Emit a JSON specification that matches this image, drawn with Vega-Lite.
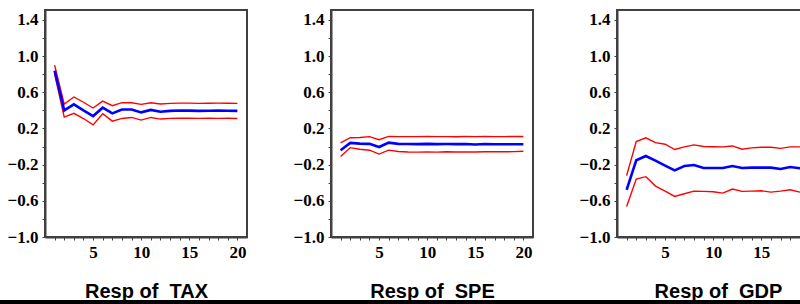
{
  "$schema": "https://vega.github.io/schema/vega-lite/v6.json",
  "padding": {"left": 0, "top": 9, "right": 0, "bottom": 0},
  "background": "white",
  "config": {
    "view": {"stroke": "#404040", "strokeWidth": 2},
    "axis": {
      "labelFont": "Liberation Serif", "labelFontWeight": "bold", "labelFontSize": 17, "labelColor": "black",
      "titleFont": "Liberation Sans", "titleFontWeight": "bold", "titleFontSize": 20, "titleColor": "black",
      "domainColor": "#404040", "domainWidth": 2, "tickColor": "#404040", "tickSize": 3, "tickWidth": 1,
      "grid": false, "labelPadding": 4
    }
  },
  "data": {"values": [
    {"panel":"TAX","step":1,"s":"resp","v":0.84},{"panel":"TAX","step":2,"s":"resp","v":0.40},{"panel":"TAX","step":3,"s":"resp","v":0.467},{"panel":"TAX","step":4,"s":"resp","v":0.40},{"panel":"TAX","step":5,"s":"resp","v":0.337},{"panel":"TAX","step":6,"s":"resp","v":0.43},{"panel":"TAX","step":7,"s":"resp","v":0.367},{"panel":"TAX","step":8,"s":"resp","v":0.41},{"panel":"TAX","step":9,"s":"resp","v":0.41},{"panel":"TAX","step":10,"s":"resp","v":0.378},{"panel":"TAX","step":11,"s":"resp","v":0.405},{"panel":"TAX","step":12,"s":"resp","v":0.385},{"panel":"TAX","step":13,"s":"resp","v":0.395},{"panel":"TAX","step":14,"s":"resp","v":0.398},{"panel":"TAX","step":15,"s":"resp","v":0.397},{"panel":"TAX","step":16,"s":"resp","v":0.395},{"panel":"TAX","step":17,"s":"resp","v":0.396},{"panel":"TAX","step":18,"s":"resp","v":0.397},{"panel":"TAX","step":19,"s":"resp","v":0.396},{"panel":"TAX","step":20,"s":"resp","v":0.395},
    {"panel":"TAX","step":1,"s":"upper","v":0.90},{"panel":"TAX","step":2,"s":"upper","v":0.47},{"panel":"TAX","step":3,"s":"upper","v":0.548},{"panel":"TAX","step":4,"s":"upper","v":0.49},{"panel":"TAX","step":5,"s":"upper","v":0.426},{"panel":"TAX","step":6,"s":"upper","v":0.503},{"panel":"TAX","step":7,"s":"upper","v":0.452},{"panel":"TAX","step":8,"s":"upper","v":0.485},{"panel":"TAX","step":9,"s":"upper","v":0.485},{"panel":"TAX","step":10,"s":"upper","v":0.467},{"panel":"TAX","step":11,"s":"upper","v":0.485},{"panel":"TAX","step":12,"s":"upper","v":0.47},{"panel":"TAX","step":13,"s":"upper","v":0.478},{"panel":"TAX","step":14,"s":"upper","v":0.48},{"panel":"TAX","step":15,"s":"upper","v":0.48},{"panel":"TAX","step":16,"s":"upper","v":0.478},{"panel":"TAX","step":17,"s":"upper","v":0.479},{"panel":"TAX","step":18,"s":"upper","v":0.48},{"panel":"TAX","step":19,"s":"upper","v":0.479},{"panel":"TAX","step":20,"s":"upper","v":0.478},
    {"panel":"TAX","step":1,"s":"lower","v":0.80},{"panel":"TAX","step":2,"s":"lower","v":0.326},{"panel":"TAX","step":3,"s":"lower","v":0.367},{"panel":"TAX","step":4,"s":"lower","v":0.31},{"panel":"TAX","step":5,"s":"lower","v":0.24},{"panel":"TAX","step":6,"s":"lower","v":0.363},{"panel":"TAX","step":7,"s":"lower","v":0.281},{"panel":"TAX","step":8,"s":"lower","v":0.311},{"panel":"TAX","step":9,"s":"lower","v":0.322},{"panel":"TAX","step":10,"s":"lower","v":0.293},{"panel":"TAX","step":11,"s":"lower","v":0.322},{"panel":"TAX","step":12,"s":"lower","v":0.304},{"panel":"TAX","step":13,"s":"lower","v":0.312},{"panel":"TAX","step":14,"s":"lower","v":0.314},{"panel":"TAX","step":15,"s":"lower","v":0.313},{"panel":"TAX","step":16,"s":"lower","v":0.312},{"panel":"TAX","step":17,"s":"lower","v":0.313},{"panel":"TAX","step":18,"s":"lower","v":0.312},{"panel":"TAX","step":19,"s":"lower","v":0.313},{"panel":"TAX","step":20,"s":"lower","v":0.311},
    {"panel":"SPE","step":1,"s":"resp","v":-0.04},{"panel":"SPE","step":2,"s":"resp","v":0.04},{"panel":"SPE","step":3,"s":"resp","v":0.032},{"panel":"SPE","step":4,"s":"resp","v":0.03},{"panel":"SPE","step":5,"s":"resp","v":-0.005},{"panel":"SPE","step":6,"s":"resp","v":0.043},{"panel":"SPE","step":7,"s":"resp","v":0.03},{"panel":"SPE","step":8,"s":"resp","v":0.028},{"panel":"SPE","step":9,"s":"resp","v":0.027},{"panel":"SPE","step":10,"s":"resp","v":0.03},{"panel":"SPE","step":11,"s":"resp","v":0.027},{"panel":"SPE","step":12,"s":"resp","v":0.028},{"panel":"SPE","step":13,"s":"resp","v":0.027},{"panel":"SPE","step":14,"s":"resp","v":0.028},{"panel":"SPE","step":15,"s":"resp","v":0.022},{"panel":"SPE","step":16,"s":"resp","v":0.028},{"panel":"SPE","step":17,"s":"resp","v":0.025},{"panel":"SPE","step":18,"s":"resp","v":0.025},{"panel":"SPE","step":19,"s":"resp","v":0.026},{"panel":"SPE","step":20,"s":"resp","v":0.026},
    {"panel":"SPE","step":1,"s":"upper","v":0.04},{"panel":"SPE","step":2,"s":"upper","v":0.098},{"panel":"SPE","step":3,"s":"upper","v":0.10},{"panel":"SPE","step":4,"s":"upper","v":0.11},{"panel":"SPE","step":5,"s":"upper","v":0.076},{"panel":"SPE","step":6,"s":"upper","v":0.113},{"panel":"SPE","step":7,"s":"upper","v":0.11},{"panel":"SPE","step":8,"s":"upper","v":0.11},{"panel":"SPE","step":9,"s":"upper","v":0.11},{"panel":"SPE","step":10,"s":"upper","v":0.113},{"panel":"SPE","step":11,"s":"upper","v":0.11},{"panel":"SPE","step":12,"s":"upper","v":0.11},{"panel":"SPE","step":13,"s":"upper","v":0.108},{"panel":"SPE","step":14,"s":"upper","v":0.112},{"panel":"SPE","step":15,"s":"upper","v":0.11},{"panel":"SPE","step":16,"s":"upper","v":0.112},{"panel":"SPE","step":17,"s":"upper","v":0.11},{"panel":"SPE","step":18,"s":"upper","v":0.11},{"panel":"SPE","step":19,"s":"upper","v":0.112},{"panel":"SPE","step":20,"s":"upper","v":0.112},
    {"panel":"SPE","step":1,"s":"lower","v":-0.109},{"panel":"SPE","step":2,"s":"lower","v":-0.012},{"panel":"SPE","step":3,"s":"lower","v":-0.03},{"panel":"SPE","step":4,"s":"lower","v":-0.04},{"panel":"SPE","step":5,"s":"lower","v":-0.083},{"panel":"SPE","step":6,"s":"lower","v":-0.04},{"panel":"SPE","step":7,"s":"lower","v":-0.055},{"panel":"SPE","step":8,"s":"lower","v":-0.06},{"panel":"SPE","step":9,"s":"lower","v":-0.062},{"panel":"SPE","step":10,"s":"lower","v":-0.06},{"panel":"SPE","step":11,"s":"lower","v":-0.062},{"panel":"SPE","step":12,"s":"lower","v":-0.058},{"panel":"SPE","step":13,"s":"lower","v":-0.06},{"panel":"SPE","step":14,"s":"lower","v":-0.06},{"panel":"SPE","step":15,"s":"lower","v":-0.06},{"panel":"SPE","step":16,"s":"lower","v":-0.058},{"panel":"SPE","step":17,"s":"lower","v":-0.056},{"panel":"SPE","step":18,"s":"lower","v":-0.058},{"panel":"SPE","step":19,"s":"lower","v":-0.056},{"panel":"SPE","step":20,"s":"lower","v":-0.052},
    {"panel":"GDP","step":1,"s":"resp","v":-0.478},{"panel":"GDP","step":2,"s":"resp","v":-0.152},{"panel":"GDP","step":3,"s":"resp","v":-0.104},{"panel":"GDP","step":4,"s":"resp","v":-0.156},{"panel":"GDP","step":5,"s":"resp","v":-0.21},{"panel":"GDP","step":6,"s":"resp","v":-0.263},{"panel":"GDP","step":7,"s":"resp","v":-0.215},{"panel":"GDP","step":8,"s":"resp","v":-0.204},{"panel":"GDP","step":9,"s":"resp","v":-0.237},{"panel":"GDP","step":10,"s":"resp","v":-0.237},{"panel":"GDP","step":11,"s":"resp","v":-0.237},{"panel":"GDP","step":12,"s":"resp","v":-0.215},{"panel":"GDP","step":13,"s":"resp","v":-0.237},{"panel":"GDP","step":14,"s":"resp","v":-0.233},{"panel":"GDP","step":15,"s":"resp","v":-0.233},{"panel":"GDP","step":16,"s":"resp","v":-0.233},{"panel":"GDP","step":17,"s":"resp","v":-0.248},{"panel":"GDP","step":18,"s":"resp","v":-0.226},{"panel":"GDP","step":19,"s":"resp","v":-0.24},{"panel":"GDP","step":20,"s":"resp","v":-0.23},
    {"panel":"GDP","step":1,"s":"upper","v":-0.322},{"panel":"GDP","step":2,"s":"upper","v":0.055},{"panel":"GDP","step":3,"s":"upper","v":0.096},{"panel":"GDP","step":4,"s":"upper","v":0.043},{"panel":"GDP","step":5,"s":"upper","v":0.026},{"panel":"GDP","step":6,"s":"upper","v":-0.033},{"panel":"GDP","step":7,"s":"upper","v":-0.004},{"panel":"GDP","step":8,"s":"upper","v":0.018},{"panel":"GDP","step":9,"s":"upper","v":0.0},{"panel":"GDP","step":10,"s":"upper","v":-0.002},{"panel":"GDP","step":11,"s":"upper","v":-0.003},{"panel":"GDP","step":12,"s":"upper","v":0.007},{"panel":"GDP","step":13,"s":"upper","v":-0.03},{"panel":"GDP","step":14,"s":"upper","v":-0.015},{"panel":"GDP","step":15,"s":"upper","v":-0.008},{"panel":"GDP","step":16,"s":"upper","v":-0.008},{"panel":"GDP","step":17,"s":"upper","v":-0.02},{"panel":"GDP","step":18,"s":"upper","v":-0.004},{"panel":"GDP","step":19,"s":"upper","v":-0.004},{"panel":"GDP","step":20,"s":"upper","v":-0.005},
    {"panel":"GDP","step":1,"s":"lower","v":-0.663},{"panel":"GDP","step":2,"s":"lower","v":-0.36},{"panel":"GDP","step":3,"s":"lower","v":-0.333},{"panel":"GDP","step":4,"s":"lower","v":-0.437},{"panel":"GDP","step":5,"s":"lower","v":-0.493},{"panel":"GDP","step":6,"s":"lower","v":-0.552},{"panel":"GDP","step":7,"s":"lower","v":-0.522},{"panel":"GDP","step":8,"s":"lower","v":-0.493},{"panel":"GDP","step":9,"s":"lower","v":-0.496},{"panel":"GDP","step":10,"s":"lower","v":-0.5},{"panel":"GDP","step":11,"s":"lower","v":-0.515},{"panel":"GDP","step":12,"s":"lower","v":-0.47},{"panel":"GDP","step":13,"s":"lower","v":-0.496},{"panel":"GDP","step":14,"s":"lower","v":-0.493},{"panel":"GDP","step":15,"s":"lower","v":-0.489},{"panel":"GDP","step":16,"s":"lower","v":-0.504},{"panel":"GDP","step":17,"s":"lower","v":-0.493},{"panel":"GDP","step":18,"s":"lower","v":-0.478},{"panel":"GDP","step":19,"s":"lower","v":-0.504},{"panel":"GDP","step":20,"s":"lower","v":-0.489}
  ]},
  "columns": 1,
  "align": "none",
  "spacing": -2,
  "concat": [
    {
      "spacing": 44,
      "hconcat": [
        {
          "spacing": 0,
          "hconcat": [
            {
              "width": 1, "height": 227,
              "data": {"values": [{}]},
              "view": {"stroke": null},
              "mark": {"type": "point", "opacity": 0, "size": 0},
              "encoding": {}
            },
            {
              "width": 202, "height": 227,
              "transform": [{"filter": "datum.panel === 'TAX'"}],
              "encoding": {
                "x": {"field": "step", "type": "quantitative", "scale": {"domain": [0, 21], "nice": false, "zero": false},
                      "axis": {"title": "Resp of \u00a0TAX", "titlePadding": 21, "labelFont": "Liberation Serif", "labelFontWeight": "bold", "values": [1,2,3,4,5,6,7,8,9,10,11,12,13,14,15,16,17,18,19,20], "labelExpr": "datum.value % 5 === 0 ? datum.label : ''"}},
                "y": {"field": "v", "type": "quantitative", "scale": {"domain": [-1.0, 1.51], "nice": false},
                      "axis": {"title": null, "minExtent": 43, "labelFont": "Liberation Serif", "labelFontWeight": "bold", "values": [-1.0,-0.8,-0.6,-0.4,-0.2,0,0.2,0.4,0.6,0.8,1.0,1.2,1.4], "labelExpr": "(abs(round(datum.value*10)) % 4 === 2) ? format(datum.value, '.1f') : ''"}}
              },
              "layer": [
                {"data": {"values": [{}]}, "mark": {"type": "rule", "color": "#808080", "strokeWidth": 1.5}, "encoding": {"y": {"datum": 0}, "x": null}},
                {"transform": [{"filter": "datum.s !== 'resp'"}], "mark": {"type": "line", "color": "#FF0000", "strokeWidth": 1.4}, "encoding": {"detail": {"field": "s"}}},
                {"transform": [{"filter": "datum.s === 'resp'"}], "mark": {"type": "line", "color": "#0000FF", "strokeWidth": 2.6}, "encoding": {}}
              ]
            }
          ]
        },
        {
          "width": 202, "height": 227,
          "transform": [{"filter": "datum.panel === 'SPE'"}],
          "encoding": {
            "x": {"field": "step", "type": "quantitative", "scale": {"domain": [0, 21], "nice": false, "zero": false},
                  "axis": {"title": "Resp of \u00a0SPE", "titlePadding": 21, "labelFont": "Liberation Serif", "labelFontWeight": "bold", "values": [1,2,3,4,5,6,7,8,9,10,11,12,13,14,15,16,17,18,19,20], "labelExpr": "datum.value % 5 === 0 ? datum.label : ''"}},
            "y": {"field": "v", "type": "quantitative", "scale": {"domain": [-1.0, 1.51], "nice": false},
                  "axis": {"title": null, "labelFont": "Liberation Serif", "labelFontWeight": "bold", "values": [-1.0,-0.8,-0.6,-0.4,-0.2,0,0.2,0.4,0.6,0.8,1.0,1.2,1.4], "labelExpr": "(abs(round(datum.value*10)) % 4 === 2) ? format(datum.value, '.1f') : ''"}}
          },
          "layer": [
            {"data": {"values": [{}]}, "mark": {"type": "rule", "color": "#808080", "strokeWidth": 1.5}, "encoding": {"y": {"datum": 0}, "x": null}},
            {"transform": [{"filter": "datum.s !== 'resp'"}], "mark": {"type": "line", "color": "#FF0000", "strokeWidth": 1.4}, "encoding": {"detail": {"field": "s"}}},
            {"transform": [{"filter": "datum.s === 'resp'"}], "mark": {"type": "line", "color": "#0000FF", "strokeWidth": 2.6}, "encoding": {}}
          ]
        },
        {
          "width": 202, "height": 227,
          "transform": [{"filter": "datum.panel === 'GDP'"}],
          "encoding": {
            "x": {"field": "step", "type": "quantitative", "scale": {"domain": [0, 21], "nice": false, "zero": false},
                  "axis": {"title": "Resp of \u00a0GDP", "titlePadding": 21, "labelFont": "Liberation Serif", "labelFontWeight": "bold", "values": [1,2,3,4,5,6,7,8,9,10,11,12,13,14,15,16,17,18,19,20], "labelExpr": "datum.value % 5 === 0 ? datum.label : ''"}},
            "y": {"field": "v", "type": "quantitative", "scale": {"domain": [-1.0, 1.51], "nice": false},
                  "axis": {"title": null, "labelFont": "Liberation Serif", "labelFontWeight": "bold", "values": [-1.0,-0.8,-0.6,-0.4,-0.2,0,0.2,0.4,0.6,0.8,1.0,1.2,1.4], "labelExpr": "(abs(round(datum.value*10)) % 4 === 2) ? format(datum.value, '.1f') : ''"}}
          },
          "layer": [
            {"data": {"values": [{}]}, "mark": {"type": "rule", "color": "#808080", "strokeWidth": 1.5}, "encoding": {"y": {"datum": 0}, "x": null}},
            {"transform": [{"filter": "datum.s !== 'resp'"}], "mark": {"type": "line", "color": "#FF0000", "strokeWidth": 1.4}, "encoding": {"detail": {"field": "s"}}},
            {"transform": [{"filter": "datum.s === 'resp'"}], "mark": {"type": "line", "color": "#0000FF", "strokeWidth": 2.6}, "encoding": {}}
          ]
        }
      ]
    },
    {
      "width": 820, "height": 10,
      "data": {"values": [{}]},
      "view": {"fill": "black", "stroke": null},
      "mark": {"type": "point", "opacity": 0, "size": 0},
      "encoding": {}
    }
  ]
}
